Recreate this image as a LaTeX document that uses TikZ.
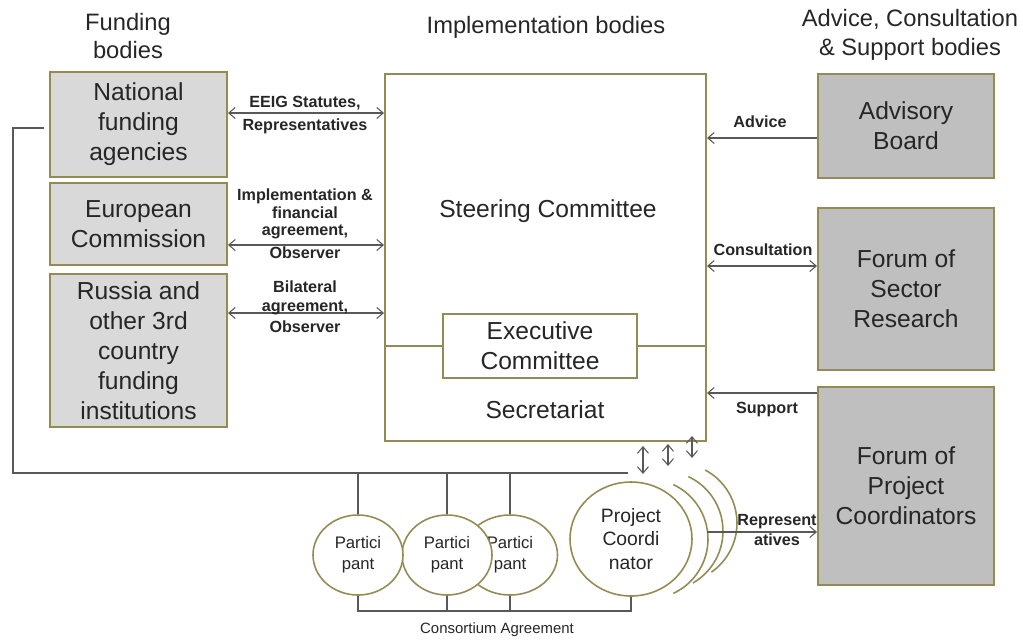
\documentclass[tikz,border=0pt]{standalone}
\usepackage{fontspec}
\setmainfont{Liberation Sans}
\usepackage{tikz}
\usetikzlibrary{shapes.geometric, positioning, arrows.meta, calc}
\definecolor{boxBorder}{HTML}{948A54}
\definecolor{lightFill}{HTML}{D9D9D9}
\definecolor{darkFill}{HTML}{BFBFBF}
\definecolor{lineGray}{HTML}{595959}
\definecolor{textGray}{HTML}{262626}

\begin{document}
\begin{tikzpicture}[
    body/.style={
        draw=boxBorder, line width=1.1pt,
        align=center, inner sep=1pt,
        text=textGray,
        font=\fontsize{14}{17}\selectfont,
    },
    funder/.style={body, fill=lightFill, minimum width=3.54cm},
    adviser/.style={body, fill=darkFill, minimum width=3.52cm},
    member/.style={
        ellipse, draw=boxBorder, line width=0.9pt, fill=white,
        align=center, inner sep=0pt, text=textGray,
        font=\fontsize{9.5}{12}\selectfont,
    },
    link/.style={
        <->, draw=lineGray, line width=0.6pt,
        >={Straight Barb[length=1.3mm,width=2.2mm]},
    },
    oneway/.style={link, <-},
    wire/.style={draw=lineGray, line width=0.7pt},
    annot/.style={
        font=\fontsize{9.2}{10}\selectfont\bfseries,
        text=textGray, align=center,
    },
    heading/.style={
        font=\fontsize{13.5}{16.4}\selectfont,
        text=textGray, align=center,
    },
]
\useasboundingbox (0,0) rectangle (20.46,-12.86);

%--- Column headings ---
\node[heading] (fundTitle) at (2.56,-0.72) {Funding\\bodies};
\node[heading] (implTitle) at (10.92,-0.54) {Implementation bodies};
\node[heading] (advTitle) at (18.2,-0.70) {Advice, Consultation\\\& Support bodies};

%--- Funding bodies ---
\node[funder, minimum height=2.10cm] (nat) at (2.77,-2.49) {National\\funding\\agencies};
\node[funder, minimum height=1.64cm] (ec) at (2.77,-4.48) {European\\Commission};
\node[funder, minimum height=3.06cm] (rus) at (2.77,-7.01) {Russia and\\other 3rd\\country\\funding\\institutions};

%--- Implementation bodies ---
\node[body, fill=white, minimum width=6.42cm, minimum height=7.34cm] (steer) at (10.91,-5.15) {};
\node[body, draw=none] (steerLbl) at (10.96,-4.22) {Steering Committee};
\node[body, fill=white, minimum width=3.88cm, minimum height=1.28cm] (exec) at (10.80,-6.92) {Executive\\Committee};
\draw[boxBorder, line width=1.1pt] (steer.west |- exec.west) -- (exec.west);
\draw[boxBorder, line width=1.1pt] (exec.east) -- (steer.east |- exec.east);
\node[body, draw=none] (secLbl) at (10.90,-8.20) {Secretariat};

%--- Advice, consultation & support bodies ---
\node[adviser, minimum height=2.08cm] (adv) at (18.12,-2.52) {Advisory\\Board};
\node[adviser, minimum height=3.24cm] (fsr) at (18.12,-5.78) {Forum of\\Sector\\Research};
\node[adviser, minimum height=3.96cm] (fpc) at (18.12,-9.72) {Forum of\\Project\\Coordinators};

%--- Funders <-> steering committee ---
\coordinate (eeigL) at ([yshift=0.23cm]nat.east);
\coordinate (ecL) at ([yshift=-0.42cm]ec.east);
\coordinate (rusL) at ([yshift=0.75cm]rus.east);
\draw[link] (eeigL) -- (eeigL -| steer.west);
\draw[link] (ecL) -- (ecL -| steer.west);
\draw[link] (rusL) -- (rusL -| steer.west);
\node[annot] (eeigLbl) at (6.10,-2.30) {EEIG Statutes,\\[3.6pt]Representatives};
\node[annot] (ecLbl) at (6.10,-4.48) {Implementation \&\\financial\\agreement,\\[3pt]Observer};
\node[annot] (rusLbl) at (6.10,-6.13) {Bilateral\\[1pt]agreement,\\[2pt]Observer};

%--- Advisers -> steering committee ---
\coordinate (advR) at ([yshift=-0.24cm]adv.west);
\coordinate (fsrR) at ([yshift=0.46cm]fsr.west);
\coordinate (fpcR) at ([yshift=1.86cm]fpc.west);
\draw[oneway] (advR -| steer.east) -- (advR);
\draw[link] (fsrR -| steer.east) -- (fsrR);
\draw[oneway] (fpcR -| steer.east) -- (fpcR);
\node[annot] (advLbl) at (15.2,-2.44) {Advice};
\node[annot] (fsrLbl) at (15.26,-5.0) {Consultation};
\node[annot] (fpcLbl) at (15.34,-8.2) {Support};

%--- Consortium ---
\node[member, minimum width=1.9cm, minimum height=1.6cm] (p3) at (10.20,-11.10) {Partici\\pant};
\node[member, minimum width=1.8cm, minimum height=1.6cm] (p2) at (8.94,-11.10) {Partici\\pant};
\node[member, minimum width=1.8cm, minimum height=1.6cm] (p1) at (7.16,-11.10) {Partici\\pant};
\node[member, minimum width=2.44cm, minimum height=2.28cm,
      font=\fontsize{11}{13.3}\selectfont] (pc) at (12.62,-10.78) {Project\\Coordi\\nator};

% further coordinators behind
\draw[boxBorder, line width=0.9pt] ($(pc.center)+(0.34,0)+(65:1.2)$) arc[start angle=65, end angle=-65, radius=1.2cm];
\draw[boxBorder, line width=0.9pt] ($(pc.center)+(0.64,0.16)+(65:1.2)$) arc[start angle=65, end angle=-60, radius=1.2cm];
\draw[boxBorder, line width=0.9pt] ($(pc.center)+(0.92,0.32)+(62:1.2)$) arc[start angle=62, end angle=-55, radius=1.2cm];

% link from funders down to the partners
\coordinate (busL) at (0.26,-9.46);
\coordinate (busR) at (12.56,-9.46);
\draw[wire] ([xshift=-0.1cm,yshift=-0.07cm]nat.west) -| (busL) -- (busR);
\draw[wire] (p1.north |- busR) -- (p1.north);
\draw[wire] (p2.north |- busR) -- (p2.north);
\draw[wire] (p3.north |- busR) -- (p3.north);

% consortium agreement bracket
\coordinate (ca) at (9.9,-12.22);
\draw[wire] (p1.south) -- (p1.south |- ca) -- (pc.south |- ca) -- (pc.south);
\draw[wire] (p2.south) -- (p2.south |- ca);
\draw[wire] (p3.south) -- (p3.south |- ca);
\node[font=\fontsize{8.5}{10}\selectfont, text=textGray] (caLbl) at (9.94,-12.6) {Consortium Agreement};

% coordinators <-> secretariat
\draw[link] ([shift={(-1.28,-0.08)}]steer.south east) -- ([shift={(-1.28,-0.64)}]steer.south east);
\draw[link] ([shift={(-0.78,-0.04)}]steer.south east) -- ([shift={(-0.78,-0.48)}]steer.south east);
\draw[link] ([shift={(-0.30,0.12)}]steer.south east) -- ([shift={(-0.30,-0.32)}]steer.south east);

% representatives
\coordinate (repL) at (14.14,-10.64);
\draw[oneway] (repL -| fpc.west) -- (repL);
\node[annot, font=\fontsize{9.2}{11.3}\selectfont\bfseries] (repLbl) at (15.54,-10.6) {Represent\\atives};

\end{tikzpicture}
\end{document}
